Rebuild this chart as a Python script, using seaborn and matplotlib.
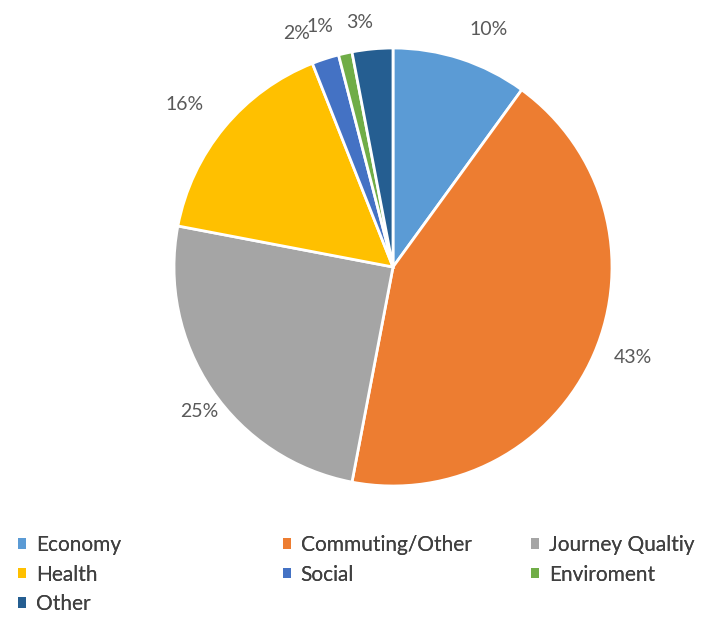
import matplotlib
matplotlib.use("Agg")
import matplotlib.pyplot as plt
import seaborn as sns
from matplotlib.patches import Patch

categories = ["Economy", "Commuting/Other", "Journey Qualtiy", "Health", "Social", "Enviroment", "Other"]
values = [10, 43, 25, 16, 2, 1, 3]
colors = ["#5B9BD5", "#ED7D31", "#A5A5A5", "#FFC000", "#4472C4", "#70AD47", "#255E91"]

sns.set_theme(style="white")
plt.rcParams["font.family"] = ["Lato", "DejaVu Sans"]

fig = plt.figure(figsize=(7.10, 6.17), dpi=100)
R_PX = 219
ax = fig.add_axes([(393 - R_PX) / 710, (617 - 267 - R_PX) / 617, 2 * R_PX / 710, 2 * R_PX / 617])
wedges, texts, autotexts = ax.pie(
    values, colors=colors, startangle=90, counterclock=False,
    autopct="%.0f%%", pctdistance=1.17,
    wedgeprops=dict(edgecolor="white", linewidth=2),
    textprops=dict(color="#595959", fontsize=14),
)
# label nudges (pixels, +x right, +y down) to mimic the original label placement
nudges = [(16, 6), (5, -11), (18, 0), (-11, 1), (-17, 10), (-17, 10), (-9, 11)]
for t, (dx, dy) in zip(autotexts, nudges):
    x, y = t.get_position()
    t.set_position((x + dx / R_PX, y - dy / R_PX))

ax.set_xlim(-1, 1)
ax.set_ylim(-1, 1)
ax.set_aspect("auto")
ax.axis("off")

handles = [Patch(facecolor=c, edgecolor="none") for c in colors]
cols = [[0, 3, 6], [1, 4], [2, 5]]
xs = [18 / 710, 283 / 710, 531 / 710]
for idx, x in zip(cols, xs):
    leg = fig.legend([handles[i] for i in idx], [categories[i] for i in idx],
                     loc="upper left", bbox_to_anchor=(x, 1 - 535 / 617),
                     frameon=False, fontsize=15, handlelength=0.4, handleheight=0.4,
                     handletextpad=0.45, labelspacing=0.46, borderpad=0, borderaxespad=0,
                     labelcolor="#404040")
    fig.add_artist(leg)

fig.savefig("out.png", dpi=100)
